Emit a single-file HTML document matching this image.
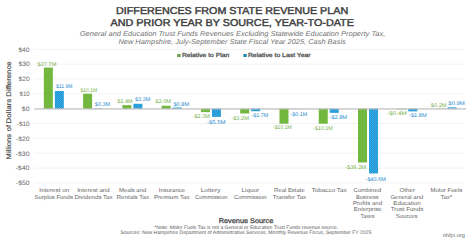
<!DOCTYPE html>
<html><head><meta charset="utf-8"><style>
html,body{margin:0;padding:0;background:#fff;width:474px;height:243px;overflow:hidden}
svg{display:block;font-family:"Liberation Sans",sans-serif;text-rendering:geometricPrecision}
</style></head><body>
<svg width="474" height="243" viewBox="0 0 474 243">
<defs>
<pattern id="dots" x="0" y="0" width="2" height="2" patternUnits="userSpaceOnUse">
<rect width="2" height="2" fill="#1c96d5"/>
<rect x="0" y="0" width="1" height="1" fill="#3aa8e1"/><rect x="1" y="1" width="1" height="1" fill="#3aa8e1"/>
</pattern>
</defs>
<rect width="474" height="243" fill="#fff"/>
<rect x="33.8" y="48.80" width="430.2" height="1" fill="#f3f3f3"/>
<rect x="33.8" y="63.65" width="430.2" height="1" fill="#f3f3f3"/>
<rect x="33.8" y="78.50" width="430.2" height="1" fill="#f3f3f3"/>
<rect x="33.8" y="93.35" width="430.2" height="1" fill="#f3f3f3"/>
<rect x="33.8" y="123.05" width="430.2" height="1" fill="#f3f3f3"/>
<rect x="33.8" y="137.90" width="430.2" height="1" fill="#f3f3f3"/>
<rect x="33.8" y="152.75" width="430.2" height="1" fill="#f3f3f3"/>
<rect x="33.8" y="167.60" width="430.2" height="1" fill="#f3f3f3"/>
<rect x="33.8" y="182.45" width="430.2" height="1" fill="#f3f3f3"/>
<rect x="43.84" y="67.57" width="9" height="41.13" fill="#73b83e"/>
<rect x="54.84" y="91.03" width="9" height="17.67" fill="url(#dots)"/>
<rect x="83.11" y="93.70" width="9" height="15.00" fill="#73b83e"/>
<rect x="94.11" y="108.25" width="9" height="0.45" fill="url(#dots)"/>
<rect x="122.38" y="105.14" width="9" height="3.56" fill="#73b83e"/>
<rect x="133.38" y="103.80" width="9" height="4.90" fill="url(#dots)"/>
<rect x="161.65" y="105.73" width="9" height="2.97" fill="#73b83e"/>
<rect x="172.65" y="107.51" width="9" height="1.19" fill="url(#dots)"/>
<rect x="200.93" y="108.70" width="9" height="3.42" fill="#73b83e"/>
<rect x="211.93" y="108.70" width="9" height="8.17" fill="url(#dots)"/>
<rect x="240.20" y="108.70" width="9" height="4.75" fill="#73b83e"/>
<rect x="251.20" y="108.70" width="9" height="2.52" fill="url(#dots)"/>
<rect x="279.47" y="108.70" width="9" height="15.00" fill="#73b83e"/>
<rect x="290.47" y="108.70" width="9" height="0.15" fill="url(#dots)"/>
<rect x="318.75" y="108.70" width="9" height="15.00" fill="#73b83e"/>
<rect x="329.75" y="108.70" width="9" height="4.16" fill="url(#dots)"/>
<rect x="358.02" y="108.70" width="9" height="53.76" fill="#73b83e"/>
<rect x="369.02" y="108.70" width="9" height="64.75" fill="url(#dots)"/>
<rect x="397.29" y="108.70" width="9" height="0.59" fill="#73b83e"/>
<rect x="408.29" y="108.70" width="9" height="2.67" fill="url(#dots)"/>
<rect x="436.56" y="108.40" width="9" height="0.30" fill="#73b83e"/>
<rect x="447.56" y="107.36" width="9" height="1.34" fill="url(#dots)"/>
<rect x="34.2" y="108.40" width="432.00" height="1.1" fill="#b8b8b8"/>
<rect x="177.2" y="54.0" width="3.4" height="3" fill="#6c9f4c"/>
<rect x="243.4" y="54.0" width="3.4" height="3" fill="#1e8bb0"/>
<text x="116.07" y="13.70" font-size="10.0" fill="#404040" font-weight="normal" font-style="normal" stroke="#404040" stroke-width="0.45" textLength="232.08" lengthAdjust="spacingAndGlyphs">DIFFERENCES FROM STATE REVENUE PLAN</text>
<text x="110.54" y="25.80" font-size="10.0" fill="#404040" font-weight="normal" font-style="normal" stroke="#404040" stroke-width="0.45" textLength="243.36" lengthAdjust="spacingAndGlyphs">AND PRIOR YEAR BY SOURCE, YEAR-TO-DATE</text>
<text x="79.77" y="35.60" font-size="7.1" fill="#737373" font-weight="normal" font-style="italic" textLength="305.53" lengthAdjust="spacingAndGlyphs">General and Education Trust Funds Revenues Excluding Statewide Education Property Tax,</text>
<text x="118.40" y="43.50" font-size="7.1" fill="#737373" font-weight="normal" font-style="italic" textLength="227.40" lengthAdjust="spacingAndGlyphs">New Hampshire, July-September State Fiscal Year 2025, Cash Basis</text>
<text x="182.01" y="57.10" font-size="5.9" fill="#505050" font-weight="normal" font-style="normal" stroke="#505050" stroke-width="0.28" textLength="47.19" lengthAdjust="spacingAndGlyphs">Relative to Plan</text>
<text x="247.90" y="57.10" font-size="5.9" fill="#505050" font-weight="normal" font-style="normal" stroke="#505050" stroke-width="0.28" textLength="62.77" lengthAdjust="spacingAndGlyphs">Relative to Last Year</text>
<text x="37.52" y="65.80" font-size="5.3" fill="#74ad45" font-weight="normal" font-style="normal" textLength="18.82" lengthAdjust="spacingAndGlyphs">$27.7M</text>
<text x="56.12" y="87.90" font-size="5.3" fill="#2288cc" font-weight="normal" font-style="normal" textLength="16.18" lengthAdjust="spacingAndGlyphs">$11.9M</text>
<text x="80.41" y="91.70" font-size="5.3" fill="#74ad45" font-weight="normal" font-style="normal" textLength="16.69" lengthAdjust="spacingAndGlyphs">$10.1M</text>
<text x="94.87" y="106.40" font-size="5.3" fill="#2288cc" font-weight="normal" font-style="normal" textLength="15.33" lengthAdjust="spacingAndGlyphs">$0.3M</text>
<text x="117.15" y="102.70" font-size="5.3" fill="#74ad45" font-weight="normal" font-style="normal" textLength="15.50" lengthAdjust="spacingAndGlyphs">$2.4M</text>
<text x="135.00" y="101.40" font-size="5.3" fill="#2288cc" font-weight="normal" font-style="normal" textLength="15.27" lengthAdjust="spacingAndGlyphs">$3.3M</text>
<text x="155.25" y="102.80" font-size="5.3" fill="#74ad45" font-weight="normal" font-style="normal" textLength="15.84" lengthAdjust="spacingAndGlyphs">$2.0M</text>
<text x="173.43" y="105.80" font-size="5.3" fill="#2288cc" font-weight="normal" font-style="normal" textLength="15.85" lengthAdjust="spacingAndGlyphs">$0.8M</text>
<text x="192.65" y="118.20" font-size="5.3" fill="#74ad45" font-weight="normal" font-style="normal" textLength="17.26" lengthAdjust="spacingAndGlyphs">-$2.3M</text>
<text x="206.97" y="123.80" font-size="5.3" fill="#2288cc" font-weight="normal" font-style="normal" textLength="18.59" lengthAdjust="spacingAndGlyphs">-$5.5M</text>
<text x="231.37" y="120.00" font-size="5.3" fill="#74ad45" font-weight="normal" font-style="normal" textLength="17.49" lengthAdjust="spacingAndGlyphs">-$3.2M</text>
<text x="251.46" y="117.00" font-size="5.3" fill="#2288cc" font-weight="normal" font-style="normal" textLength="16.77" lengthAdjust="spacingAndGlyphs">-$1.7M</text>
<text x="272.99" y="129.30" font-size="5.3" fill="#74ad45" font-weight="normal" font-style="normal" textLength="18.81" lengthAdjust="spacingAndGlyphs">-$10.1M</text>
<text x="290.39" y="115.70" font-size="5.3" fill="#2288cc" font-weight="normal" font-style="normal" textLength="16.93" lengthAdjust="spacingAndGlyphs">-$0.1M</text>
<text x="313.32" y="130.30" font-size="5.3" fill="#74ad45" font-weight="normal" font-style="normal" textLength="19.24" lengthAdjust="spacingAndGlyphs">-$10.1M</text>
<text x="329.56" y="118.70" font-size="5.3" fill="#2288cc" font-weight="normal" font-style="normal" textLength="17.49" lengthAdjust="spacingAndGlyphs">-$2.8M</text>
<text x="345.03" y="169.20" font-size="5.3" fill="#74ad45" font-weight="normal" font-style="normal" textLength="21.16" lengthAdjust="spacingAndGlyphs">-$36.2M</text>
<text x="365.58" y="180.50" font-size="5.3" fill="#2288cc" font-weight="normal" font-style="normal" textLength="20.41" lengthAdjust="spacingAndGlyphs">-$43.6M</text>
<text x="387.14" y="114.80" font-size="5.3" fill="#74ad45" font-weight="normal" font-style="normal" textLength="19.62" lengthAdjust="spacingAndGlyphs">-$0.4M</text>
<text x="409.06" y="116.90" font-size="5.3" fill="#2288cc" font-weight="normal" font-style="normal" textLength="17.57" lengthAdjust="spacingAndGlyphs">-$1.8M</text>
<text x="430.75" y="106.70" font-size="5.3" fill="#74ad45" font-weight="normal" font-style="normal" textLength="15.82" lengthAdjust="spacingAndGlyphs">$0.2M</text>
<text x="448.35" y="105.10" font-size="5.3" fill="#2288cc" font-weight="normal" font-style="normal" textLength="16.43" lengthAdjust="spacingAndGlyphs">$0.9M</text>
<text x="39.38" y="192.10" font-size="5.8" fill="#646464" font-weight="normal" font-style="normal" textLength="29.83" lengthAdjust="spacingAndGlyphs">Interest on</text>
<text x="34.64" y="198.53" font-size="5.8" fill="#646464" font-weight="normal" font-style="normal" textLength="38.25" lengthAdjust="spacingAndGlyphs">Surplus Funds</text>
<text x="77.17" y="192.10" font-size="5.8" fill="#646464" font-weight="normal" font-style="normal" textLength="32.50" lengthAdjust="spacingAndGlyphs">Interest and</text>
<text x="74.53" y="198.53" font-size="5.8" fill="#646464" font-weight="normal" font-style="normal" textLength="38.08" lengthAdjust="spacingAndGlyphs">Dividends Tax</text>
<text x="119.03" y="192.10" font-size="5.8" fill="#646464" font-weight="normal" font-style="normal" textLength="27.19" lengthAdjust="spacingAndGlyphs">Meals and</text>
<text x="116.46" y="198.53" font-size="5.8" fill="#646464" font-weight="normal" font-style="normal" textLength="32.57" lengthAdjust="spacingAndGlyphs">Rentals Tax</text>
<text x="158.84" y="192.10" font-size="5.8" fill="#646464" font-weight="normal" font-style="normal" textLength="26.16" lengthAdjust="spacingAndGlyphs">Insurance</text>
<text x="153.91" y="198.53" font-size="5.8" fill="#646464" font-weight="normal" font-style="normal" textLength="35.56" lengthAdjust="spacingAndGlyphs">Premium Tax</text>
<text x="200.76" y="192.10" font-size="5.8" fill="#646464" font-weight="normal" font-style="normal" textLength="19.72" lengthAdjust="spacingAndGlyphs">Lottery</text>
<text x="195.01" y="198.53" font-size="5.8" fill="#646464" font-weight="normal" font-style="normal" textLength="32.44" lengthAdjust="spacingAndGlyphs">Commission</text>
<text x="241.62" y="192.10" font-size="5.8" fill="#646464" font-weight="normal" font-style="normal" textLength="17.40" lengthAdjust="spacingAndGlyphs">Liquor</text>
<text x="233.92" y="198.53" font-size="5.8" fill="#646464" font-weight="normal" font-style="normal" textLength="32.78" lengthAdjust="spacingAndGlyphs">Commission</text>
<text x="274.14" y="192.10" font-size="5.8" fill="#646464" font-weight="normal" font-style="normal" textLength="30.56" lengthAdjust="spacingAndGlyphs">Real Estate</text>
<text x="272.78" y="198.53" font-size="5.8" fill="#646464" font-weight="normal" font-style="normal" textLength="33.29" lengthAdjust="spacingAndGlyphs">Transfer Tax</text>
<text x="311.70" y="192.10" font-size="5.8" fill="#646464" font-weight="normal" font-style="normal" textLength="34.88" lengthAdjust="spacingAndGlyphs">Tobacco Tax</text>
<text x="353.50" y="192.10" font-size="5.8" fill="#646464" font-weight="normal" font-style="normal" textLength="27.73" lengthAdjust="spacingAndGlyphs">Combined</text>
<text x="356.01" y="198.53" font-size="5.8" fill="#646464" font-weight="normal" font-style="normal" textLength="22.55" lengthAdjust="spacingAndGlyphs">Business</text>
<text x="353.03" y="204.96" font-size="5.8" fill="#646464" font-weight="normal" font-style="normal" textLength="29.11" lengthAdjust="spacingAndGlyphs">Profits and</text>
<text x="353.70" y="211.39" font-size="5.8" fill="#646464" font-weight="normal" font-style="normal" textLength="28.08" lengthAdjust="spacingAndGlyphs">Enterprise</text>
<text x="360.50" y="217.82" font-size="5.8" fill="#646464" font-weight="normal" font-style="normal" textLength="14.07" lengthAdjust="spacingAndGlyphs">Taxes</text>
<text x="399.45" y="192.10" font-size="5.8" fill="#646464" font-weight="normal" font-style="normal" textLength="15.60" lengthAdjust="spacingAndGlyphs">Other</text>
<text x="390.43" y="198.53" font-size="5.8" fill="#646464" font-weight="normal" font-style="normal" textLength="32.92" lengthAdjust="spacingAndGlyphs">General and</text>
<text x="393.36" y="204.96" font-size="5.8" fill="#646464" font-weight="normal" font-style="normal" textLength="27.35" lengthAdjust="spacingAndGlyphs">Education</text>
<text x="390.86" y="211.39" font-size="5.8" fill="#646464" font-weight="normal" font-style="normal" textLength="32.34" lengthAdjust="spacingAndGlyphs">Trust Funds</text>
<text x="396.11" y="217.82" font-size="5.8" fill="#646464" font-weight="normal" font-style="normal" textLength="21.41" lengthAdjust="spacingAndGlyphs">Sources</text>
<text x="430.44" y="192.10" font-size="5.8" fill="#646464" font-weight="normal" font-style="normal" textLength="31.73" lengthAdjust="spacingAndGlyphs">Motor Fuels</text>
<text x="440.55" y="198.53" font-size="5.8" fill="#646464" font-weight="normal" font-style="normal" textLength="11.50" lengthAdjust="spacingAndGlyphs">Tax*</text>
<text transform="rotate(-90)" x="-159.48" y="10.50" font-size="6.8" fill="#4a4a4a" font-weight="normal" font-style="normal" stroke="#4a4a4a" stroke-width="0.18" textLength="25.62" lengthAdjust="spacingAndGlyphs">Millions</text>
<text transform="rotate(-90)" x="-131.23" y="10.50" font-size="6.8" fill="#4a4a4a" font-weight="normal" font-style="normal" stroke="#4a4a4a" stroke-width="0.18" textLength="6.27" lengthAdjust="spacingAndGlyphs">of</text>
<text transform="rotate(-90)" x="-123.41" y="10.50" font-size="6.8" fill="#4a4a4a" font-weight="normal" font-style="normal" stroke="#4a4a4a" stroke-width="0.18" textLength="24.61" lengthAdjust="spacingAndGlyphs">Dollars</text>
<text transform="rotate(-90)" x="-96.69" y="10.50" font-size="6.8" fill="#4a4a4a" font-weight="normal" font-style="normal" stroke="#4a4a4a" stroke-width="0.18" textLength="35.37" lengthAdjust="spacingAndGlyphs">Difference</text>
<text x="18.43" y="51.60" font-size="6.4" fill="#6a6a6a" font-weight="normal" font-style="normal" textLength="11.11" lengthAdjust="spacingAndGlyphs">$40</text>
<text x="18.52" y="66.45" font-size="6.4" fill="#6a6a6a" font-weight="normal" font-style="normal" textLength="11.08" lengthAdjust="spacingAndGlyphs">$30</text>
<text x="18.56" y="81.30" font-size="6.4" fill="#6a6a6a" font-weight="normal" font-style="normal" textLength="11.04" lengthAdjust="spacingAndGlyphs">$20</text>
<text x="19.55" y="96.15" font-size="6.4" fill="#6a6a6a" font-weight="normal" font-style="normal" textLength="10.02" lengthAdjust="spacingAndGlyphs">$10</text>
<text x="21.85" y="111.00" font-size="6.4" fill="#6a6a6a" font-weight="normal" font-style="normal" textLength="7.61" lengthAdjust="spacingAndGlyphs">$0</text>
<text x="16.82" y="125.85" font-size="6.4" fill="#6a6a6a" font-weight="normal" font-style="normal" textLength="12.86" lengthAdjust="spacingAndGlyphs">-$10</text>
<text x="15.86" y="140.70" font-size="6.4" fill="#6a6a6a" font-weight="normal" font-style="normal" textLength="13.64" lengthAdjust="spacingAndGlyphs">-$20</text>
<text x="15.62" y="155.55" font-size="6.4" fill="#6a6a6a" font-weight="normal" font-style="normal" textLength="13.89" lengthAdjust="spacingAndGlyphs">-$30</text>
<text x="15.41" y="170.40" font-size="6.4" fill="#6a6a6a" font-weight="normal" font-style="normal" textLength="14.08" lengthAdjust="spacingAndGlyphs">-$40</text>
<text x="16.10" y="185.25" font-size="6.4" fill="#6a6a6a" font-weight="normal" font-style="normal" textLength="13.54" lengthAdjust="spacingAndGlyphs">-$50</text>
<text x="218.77" y="222.70" font-size="6.9" fill="#4e4e4e" font-weight="normal" font-style="normal" stroke="#4e4e4e" stroke-width="0.32" textLength="54.45" lengthAdjust="spacingAndGlyphs">Revenue Source</text>
<text x="154.27" y="228.60" font-size="5.0" fill="#5c5c5c" font-weight="normal" font-style="normal" textLength="183.77" lengthAdjust="spacingAndGlyphs">*Note: Motor Fuels Tax is not a General or Education Trust Funds revenue source.</text>
<text x="120.55" y="234.10" font-size="5.0" fill="#5c5c5c" font-weight="normal" font-style="normal" textLength="250.69" lengthAdjust="spacingAndGlyphs">Sources: New Hampshire Department of Administrative Services, Monthly Revenue Focus, September FY 2025</text>
<text x="442.67" y="237.00" font-size="5.2" fill="#666" font-weight="normal" font-style="normal" textLength="22.31" lengthAdjust="spacingAndGlyphs">nhfpi.org</text>
</svg>
</body></html>
